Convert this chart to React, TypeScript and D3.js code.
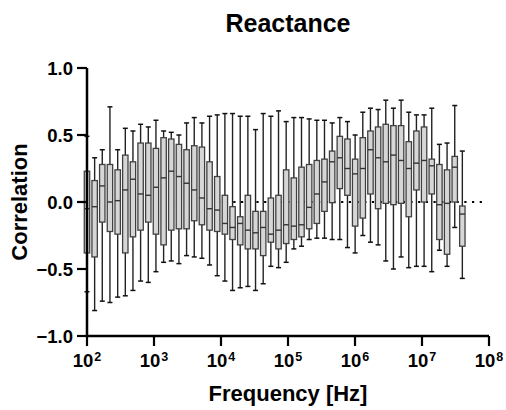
import React from 'react';
import * as d3 from 'd3';

// measurement frequencies (Hz), log spaced 100 Hz .. 40 MHz
const frequencies = [
  100, 130, 169, 220, 287, 373, 485, 631, 822, 1069,
  1391, 1810, 2355, 3064, 3987, 5188, 6751, 8784, 11430, 14873,
  19353, 25182, 32767, 42637, 55480, 72191, 93936, 122231, 159048, 206957,
  269296, 350413, 455964, 593310, 772028, 1004575, 1307170, 1700911, 2213257, 2879928,
  3747411, 4876194, 6344993, 8256218, 10743141, 13979174, 18189943, 23669076, 30798608, 40000000,
];

// box plot statistics of the correlation at each frequency
const whiskerMax = [
  0.49, 0.33, 0.39, 0.71, 0.39, 0.55, 0.53, 0.58, 0.56, 0.61,
  0.53, 0.52, 0.50, 0.59, 0.63, 0.59, 0.64, 0.65, 0.66, 0.66,
  0.64, 0.64, 0.54, 0.66, 0.64, 0.68, 0.60, 0.63, 0.63, 0.62,
  0.61, 0.61, 0.59, 0.63, 0.60, 0.50, 0.67, 0.70, 0.69, 0.76,
  0.70, 0.76, 0.67, 0.65, 0.65, 0.70, 0.43, 0.44, 0.72, 0.38,
];
const q3 = [
  0.23, 0.16, 0.28, 0.28, 0.24, 0.35, 0.30, 0.44, 0.44, 0.40,
  0.48, 0.47, 0.43, 0.39, 0.42, 0.41, 0.30, 0.19, 0.05, -0.035,
  -0.11, 0.05, -0.07, -0.07, 0.03, 0.05, 0.24, 0.18, 0.26, 0.28,
  0.31, 0.32, 0.38, 0.49, 0.47, 0.32, 0.48, 0.53, 0.56, 0.58,
  0.57, 0.57, 0.45, 0.53, 0.56, 0.32, 0.28, 0.24, 0.34, -0.03,
];
const median = [
  -0.05, -0.035, 0.12, 0.0, 0.01, 0.09, 0.17, 0.06, 0.05, 0.11,
  0.18, 0.23, 0.19, 0.14, 0.09, 0.03, -0.05, -0.06, -0.16, -0.19,
  -0.16, -0.21, -0.23, -0.19, -0.24, -0.21, -0.17, -0.18, -0.17, -0.04,
  0.06, 0.15, 0.30, 0.33, 0.25, 0.21, 0.25, 0.39, 0.33, 0.30,
  0.35, 0.31, 0.25, 0.29, 0.31, 0.27, -0.02, -0.01, 0.26, -0.09,
];
const q1 = [
  -0.38, -0.41, -0.15, -0.22, -0.24, -0.38, -0.26, -0.21, -0.15, -0.24,
  -0.32, -0.21, -0.20, -0.20, -0.14, -0.17, -0.21, -0.22, -0.24, -0.28,
  -0.32, -0.35, -0.35, -0.40, -0.30, -0.35, -0.31, -0.28, -0.26, -0.20,
  -0.16, -0.07, -0.005, 0.10, 0.05, -0.18, -0.12, 0.06, -0.05, -0.01,
  -0.02, -0.01, -0.11, 0.09, 0.0, 0.06, -0.28, -0.39, 0.0, -0.33,
];
const whiskerMin = [
  -0.67, -0.81, -0.74, -0.75, -0.71, -0.70, -0.66, -0.59, -0.60, -0.52,
  -0.45, -0.44, -0.46, -0.40, -0.41, -0.42, -0.47, -0.55, -0.59, -0.66,
  -0.64, -0.63, -0.66, -0.61, -0.48, -0.49, -0.45, -0.35, -0.33, -0.28,
  -0.27, -0.27, -0.28, -0.28, -0.34, -0.38, -0.25, -0.30, -0.32, -0.44,
  -0.50, -0.41, -0.49, -0.48, -0.48, -0.52, -0.36, -0.48, -0.19, -0.57,
];

const yTicks = [-1.0, -0.5, 0.0, 0.5, 1.0];
const xTickExponents = [2, 3, 4, 5, 6, 7, 8];

const width = 506;
const height = 410;
const margin = { top: 68, right: 17, bottom: 74, left: 87 };
const font = '"Liberation Sans", Arial, sans-serif';

export default function App() {
  const x = d3.scaleLog().domain([1e2, 1e8]).range([margin.left, width - margin.right]);
  const y = d3.scaleLinear().domain([-1, 1]).range([height - margin.bottom, margin.top]);

  const boxes = frequencies.map((f, i) => ({
    f,
    max: whiskerMax[i],
    q3: q3[i],
    med: median[i],
    q1: q1[i],
    min: whiskerMin[i],
  }));

  const boxW = 5.4;
  const capW = 5;
  const x0 = x.range()[0];
  const x1 = x.range()[1];
  const yBottom = y(-1);

  return (
    <svg width={width} height={height} style={{ position: 'absolute', left: 0, top: 0 }}
      fontFamily={font} fontWeight="bold">
      <rect width={width} height={height} fill="#fff" />

      {/* title */}
      <text x={(x0 + x1) / 2} y={32} textAnchor="middle" fontSize={25}>Reactance</text>

      {/* zero reference */}
      <line x1={x0} x2={486} y1={y(0)} y2={y(0)} stroke="#000" strokeWidth={2}
        strokeDasharray="2.2 5.5" />

      {/* boxes */}
      {boxes.map((b, i) => {
        const cx = x(b.f);
        return (
          <g key={i}>
            <line x1={cx} x2={cx} y1={y(b.max)} y2={y(b.min)} stroke="#222" strokeWidth={1.4} />
            <line x1={cx - capW / 2} x2={cx + capW / 2} y1={y(b.max)} y2={y(b.max)} stroke="#111" strokeWidth={1.5} />
            <line x1={cx - capW / 2} x2={cx + capW / 2} y1={y(b.min)} y2={y(b.min)} stroke="#111" strokeWidth={1.5} />
            <rect x={cx - boxW / 2} y={y(b.q3)} width={boxW} height={y(b.q1) - y(b.q3)}
              fill="#d6d6d6" stroke="#404040" strokeWidth={1.3} />
            <line x1={cx - boxW / 2} x2={cx + boxW / 2} y1={y(b.med)} y2={y(b.med)} stroke="#333" strokeWidth={1.4} />
          </g>
        );
      })}

      {/* y axis */}
      <line x1={x0} x2={x0} y1={y(1)} y2={yBottom} stroke="#000" strokeWidth={2.5} />
      {yTicks.map((t) => (
        <g key={t}>
          <line x1={x0 - 10} x2={x0} y1={y(t)} y2={y(t)} stroke="#000" strokeWidth={2.2} />
          <text x={x0 - 14} y={y(t)} dy="0.36em" textAnchor="end" fontSize={18.5}>{d3.format('.1f')(t)}</text>
        </g>
      ))}

      {/* x axis */}
      <line x1={x0 - 1.2} x2={x1} y1={yBottom} y2={yBottom} stroke="#000" strokeWidth={2.5} />
      {xTickExponents.map((e) => (
        <g key={e}>
          <line x1={x(10 ** e)} x2={x(10 ** e)} y1={yBottom} y2={yBottom + 10} stroke="#000" strokeWidth={2.2} />
          <text x={x(10 ** e)} y={yBottom + 31} textAnchor="middle" fontSize={18.5}>
            10<tspan fontSize={12.5} dy={-6} dx={1}>{e}</tspan>
          </text>
        </g>
      ))}

      {/* axis titles */}
      <text x={(x0 + x1) / 2} y={401} textAnchor="middle" fontSize={22}>Frequency [Hz]</text>
      <text transform={`translate(27,${y(0)}) rotate(-90)`} textAnchor="middle" fontSize={22}>Correlation</text>
    </svg>
  );
}
